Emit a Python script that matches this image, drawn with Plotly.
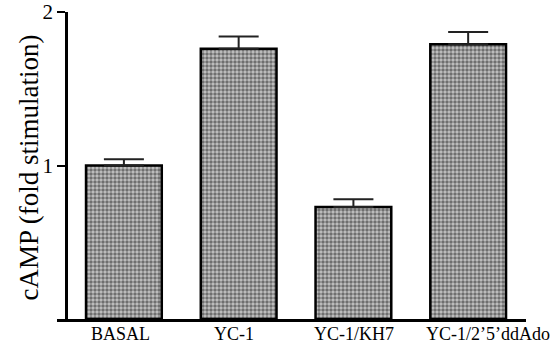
import plotly.graph_objects as go

categories = ["BASAL", "YC-1", "YC-1/KH7", "YC-1/2’5’ddAdo"]
values = [1.0, 1.76, 0.73, 1.79]
errors = [0.04, 0.08, 0.05, 0.08]
ytick_vals = [1, 2]
ytick_text = ["1", "2"]
label_shift = [-3, -5, 1, 20]

W, H = 554, 354
L, R, T, B = 57, 28, 12, 35
plot_w = W - L - R
FONT = "Liberation Serif, Times New Roman, serif"

fig = go.Figure()
fig.add_trace(go.Bar(
    x=list(range(len(categories))),
    y=values,
    width=0.66,
    marker=dict(
        color="#ffffff",
        line=dict(color="#000000", width=2.5),
        pattern=dict(shape=".", size=4, solidity=0.6, fgcolor="#1a1a1a", bgcolor="#c4c4c4"),
    ),
    error_y=dict(type="data", array=errors, arrayminus=[0]*len(errors), symmetric=False,
                 color="#222222", thickness=2, width=20),
))

for i, (c, s) in enumerate(zip(categories, label_shift)):
    fig.add_annotation(x=i, y=0, xref="x", yref="y", text=c, showarrow=False,
                       yanchor="middle", yshift=-15, xshift=s,
                       font=dict(size=18, family=FONT, color="#000000"))

fig.add_annotation(x=0, y=0.5, xref="paper", yref="paper", text="cAMP (fold stimulation)",
                   showarrow=False, textangle=-90, xanchor="center", yanchor="middle",
                   xshift=28 - L, yshift=-2,
                   font=dict(size=27, family=FONT, color="#000000"))

fig.update_layout(
    width=W, height=H,
    margin=dict(l=L, r=R, t=T, b=B, autoexpand=False),
    plot_bgcolor="white", paper_bgcolor="white",
    showlegend=False,
    font=dict(family=FONT, color="#000000"),
    xaxis=dict(
        range=[-0.583, 3.504],
        tickvals=list(range(len(categories))),
        showticklabels=False,
        showline=True, linecolor="#000000", linewidth=2.5,
        ticks="", showgrid=False, zeroline=False,
        automargin=False,
    ),
    yaxis=dict(
        range=[0, 2],
        anchor="free", position=9 / plot_w,
        tickvals=ytick_vals, ticktext=ytick_text,
        showline=True, linecolor="#000000", linewidth=2.5,
        ticks="outside", ticklen=8, tickwidth=2, tickcolor="#000000",
        showgrid=False, zeroline=False,
        tickfont=dict(size=21), automargin=False,
    ),
)

fig.write_html("out.html", config={"displayModeBar": False},
               post_script="document.body.style.margin='0px';")
